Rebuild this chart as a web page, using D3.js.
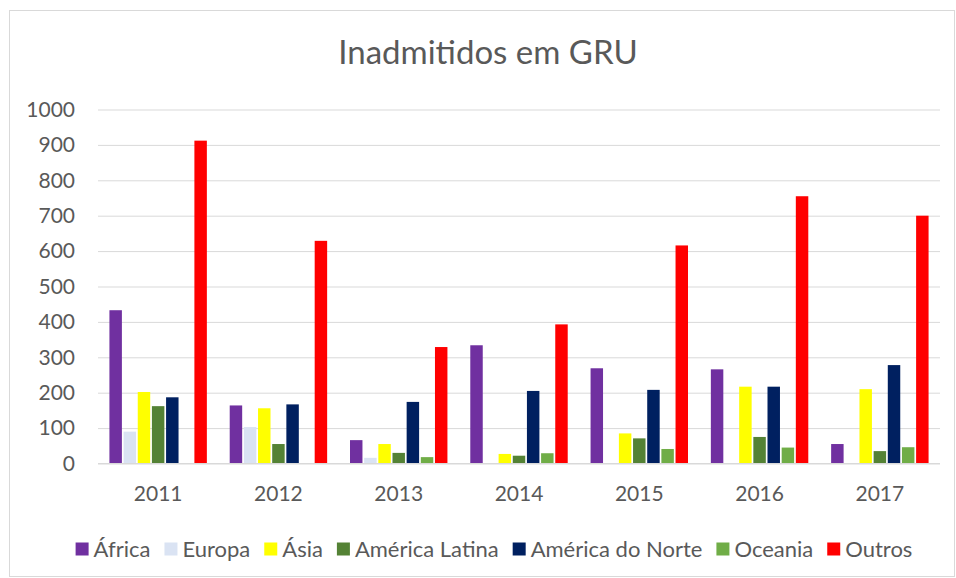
<!DOCTYPE html>
<html>
<head>
<meta charset="utf-8">
<script src="https://cdn.jsdelivr.net/npm/d3@7"></script>
<style>
  body { margin: 0; background: #fff; }
  text { font-family: Lato, "Open Sans", sans-serif; fill: #595959; }
</style>
</head>
<body>
<div id="chart"></div>
<script>
// Data
var years = ["2011", "2012", "2013", "2014", "2015", "2016", "2017"];
var regions = ["África", "Europa", "Ásia", "América Latina", "América do Norte", "Oceania", "Outros"];
var colors = ["#7030A0", "#DAE3F3", "#FFFF00", "#548235", "#002060", "#70AD47", "#FF0000"];

var africa   = [433, 164, 66, 334, 269, 266, 55];
var europa   = [90, 103, 16, 0, 0, 0, 0];
var asia     = [202, 156, 55, 27, 85, 217, 210];
var latina   = [162, 55, 30, 22, 71, 75, 35];
var norte    = [187, 167, 174, 205, 208, 217, 278];
var oceania  = [0, 0, 18, 29, 41, 45, 46];
var outros   = [912, 629, 329, 393, 616, 755, 700];

var series = [africa, europa, asia, latina, norte, oceania, outros];
var yTicks = [0, 100, 200, 300, 400, 500, 600, 700, 800, 900, 1000];

// Chart parameters
var svgWidth = 956;
var svgHeight = 578;

var margin = { top: 109.5, right: 16, bottom: 114.5, left: 98 };
var width = svgWidth - margin.left - margin.right;
var height = svgHeight - margin.top - margin.bottom;

var svg = d3.select("#chart")
  .append("svg")
  .attr("width", svgWidth)
  .attr("height", svgHeight);

// outer border
svg.append("rect")
  .attr("x", 9.5)
  .attr("y", 10.5)
  .attr("width", 945)
  .attr("height", 566)
  .attr("fill", "none")
  .attr("stroke", "#d9d9d9");

// Title
svg.append("text")
  .attr("x", 488)
  .attr("y", 64)
  .attr("text-anchor", "middle")
  .style("font-size", "33px")
  .text("Inadmitidos em GRU");

var chartGroup = svg.append("g")
  .attr("transform", `translate(${margin.left}, ${margin.top})`);

// Scales
var x0 = d3.scaleBand()
  .domain(years)
  .range([0, width])
  .paddingInner(0.19)
  .paddingOuter(0.095);

var x1 = d3.scaleBand()
  .domain(regions)
  .range([0, x0.bandwidth()])
  .paddingInner(0.12);

var yScale = d3.scaleLinear()
  .domain([0, 1000])
  .range([height, 0]);

// Gridlines
chartGroup.append("g")
  .call(d3.axisLeft(yScale).tickValues(yTicks).tickSize(-width).tickFormat(""))
  .call(g => g.select(".domain").remove())
  .selectAll("line")
  .attr("stroke", "#d9d9d9");

// Y labels
chartGroup.append("g")
  .selectAll("text")
  .data(yTicks)
  .enter()
  .append("text")
  .attr("x", -23)
  .attr("y", d => yScale(d))
  .attr("dy", "0.35em")
  .attr("text-anchor", "end")
  .style("font-size", "21px")
  .text(d => d);

// Bars
var groups = chartGroup.selectAll(".year")
  .data(years)
  .enter()
  .append("g")
  .attr("class", "year")
  .attr("transform", d => `translate(${x0(d)}, 0)`);

groups.selectAll("rect")
  .data((d, i) => regions.map((r, j) => ({ region: r, value: series[j][i], color: colors[j] })))
  .enter()
  .append("rect")
  .filter(d => d.value > 0)
  .attr("x", d => x1(d.region))
  .attr("width", x1.bandwidth())
  .attr("y", d => yScale(d.value))
  .attr("height", d => height - yScale(d.value))
  .attr("fill", d => d.color);

// X axis line
chartGroup.append("line")
  .attr("x1", 0)
  .attr("x2", width)
  .attr("y1", height)
  .attr("y2", height)
  .attr("stroke", "#d9d9d9");

// X labels
chartGroup.append("g")
  .selectAll("text")
  .data(years)
  .enter()
  .append("text")
  .attr("x", d => x0(d) + x0.bandwidth() / 2)
  .attr("y", height + 30.5)
  .attr("dy", "0.35em")
  .attr("text-anchor", "middle")
  .style("font-size", "21px")
  .text(d => d);

// Legend
var legend = svg.append("g");
var lx = 0;
regions.forEach(function(r, i) {
  var item = legend.append("g").attr("transform", `translate(${lx}, 0)`);
  item.append("rect")
    .attr("x", 0)
    .attr("y", -6.5)
    .attr("width", 13)
    .attr("height", 13)
    .attr("fill", colors[i]);
  var t = item.append("text")
    .attr("x", 18)
    .attr("y", 0)
    .attr("dy", "0.35em")
    .style("font-size", "22px")
    .text(r);
  lx += 18 + t.node().getComputedTextLength() + 14;
});
lx -= 14;
legend.attr("transform", `translate(${494 - lx / 2}, 549)`);
</script>
</body>
</html>
